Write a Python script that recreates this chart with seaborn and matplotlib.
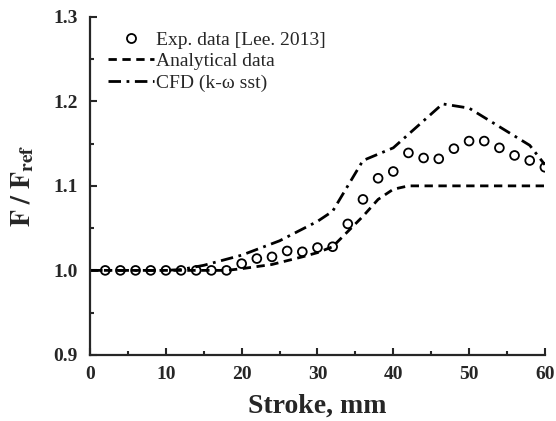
import matplotlib
matplotlib.use("Agg")
import matplotlib.pyplot as plt
import seaborn as sns
import pandas as pd
from matplotlib.ticker import MultipleLocator
from matplotlib.lines import Line2D

exp_x = [2, 4, 6, 8, 10, 12, 14, 16, 18, 20, 22, 24, 26, 28, 30, 32, 34, 36, 38, 40,
         42, 44, 46, 48, 50, 52, 54, 56, 58, 60]
exp_y = [1.0, 1.0, 1.0, 1.0, 1.0, 1.0, 1.0, 1.0, 1.0, 1.008, 1.014, 1.016, 1.023, 1.022, 1.027, 1.028,
         1.055, 1.084, 1.109, 1.117, 1.139, 1.133, 1.132, 1.144, 1.153, 1.153, 1.145, 1.136, 1.130, 1.122]

ana_x = [0, 18, 20, 24, 28, 30, 32, 34, 36, 38, 40, 42, 60]
ana_y = [1.0, 1.0, 1.002, 1.007, 1.016, 1.021, 1.028, 1.046, 1.064, 1.084, 1.096, 1.1, 1.1]

cfd_x = [0, 10, 12, 15, 20, 25, 30, 32, 36, 40, 46.5, 50, 54, 58, 60]
cfd_y = [1.0, 1.0, 1.001, 1.006, 1.018, 1.035, 1.058, 1.07, 1.13, 1.145, 1.197, 1.192, 1.17, 1.148, 1.125]

labels = ["Exp. data [Lee. 2013]", "Analytical data", "CFD (k-\u03c9 sst)"]

sns.set_style("ticks")
plt.rcParams['font.family'] = ['Liberation Serif', 'DejaVu Serif']
plt.rcParams['mathtext.fontset'] = 'stix'

fig = plt.figure(figsize=(5.56, 4.21), dpi=100)
ax = fig.add_axes([0.162, 0.157, 0.818, 0.803])

ana = pd.DataFrame({"x": ana_x, "y": ana_y})
cfd = pd.DataFrame({"x": cfd_x, "y": cfd_y})
exp = pd.DataFrame({"x": exp_x, "y": exp_y})

sns.lineplot(data=ana, x="x", y="y", ax=ax, color="black", lw=2.0,
             linestyle=(0, (3, 2)), label=labels[1], sort=False)
sns.lineplot(data=cfd, x="x", y="y", ax=ax, color="black", lw=2.0,
             linestyle=(0, (4.5, 2, 1, 2)), label=labels[2], sort=False)
sns.scatterplot(data=exp, x="x", y="y", ax=ax, marker="o", s=40,
                facecolor="none", edgecolor="black", linewidth=1.3, label=labels[0], zorder=5)

ax.set_xlim(0, 60)
ax.set_ylim(0.9, 1.3)
ax.xaxis.set_major_locator(MultipleLocator(10))
ax.xaxis.set_minor_locator(MultipleLocator(5))
ax.yaxis.set_major_locator(MultipleLocator(0.1))
ax.yaxis.set_minor_locator(MultipleLocator(0.05))
ax.set_yticks([0.9, 1.0, 1.1, 1.2, 1.3])
ax.set_yticklabels(["0.9", "1.0", "1.1", "1.2", "1.3"])
ax.tick_params(which="major", direction="in", length=5, width=1.5, labelsize=14)
ax.tick_params(axis="y", which="major", pad=9)
ax.tick_params(axis="x", which="major", pad=8)
ax.tick_params(which="minor", direction="in", length=3, width=1.5)
for lab in ax.get_xticklabels() + ax.get_yticklabels():
    lab.set_fontweight("bold")
for s in ["top", "right"]:
    ax.spines[s].set_visible(False)
for s in ["left", "bottom"]:
    ax.spines[s].set_linewidth(1.6)

ax.set_xlabel("Stroke, mm", fontsize=20, fontweight="bold", labelpad=8)
ax.set_ylabel(r"$\mathbf{F\ /\ F_{ref}}$", fontsize=20, labelpad=12)

handles = [
    Line2D([], [], marker="o", ls="none", markerfacecolor="none", markeredgecolor="black",
           markersize=6.5, markeredgewidth=1.3),
    Line2D([], [], color="black", lw=2.0, ls=(0, (3, 2))),
    Line2D([], [], color="black", lw=2.0, ls=(0, (4.5, 2, 1, 2))),
]
ax.legend(handles, labels, loc="upper left", bbox_to_anchor=(0.0, 1.01), frameon=False,
          fontsize=14, handlelength=2.4, handletextpad=0.1, labelspacing=0.2)

fig.savefig("out.png", dpi=100)
